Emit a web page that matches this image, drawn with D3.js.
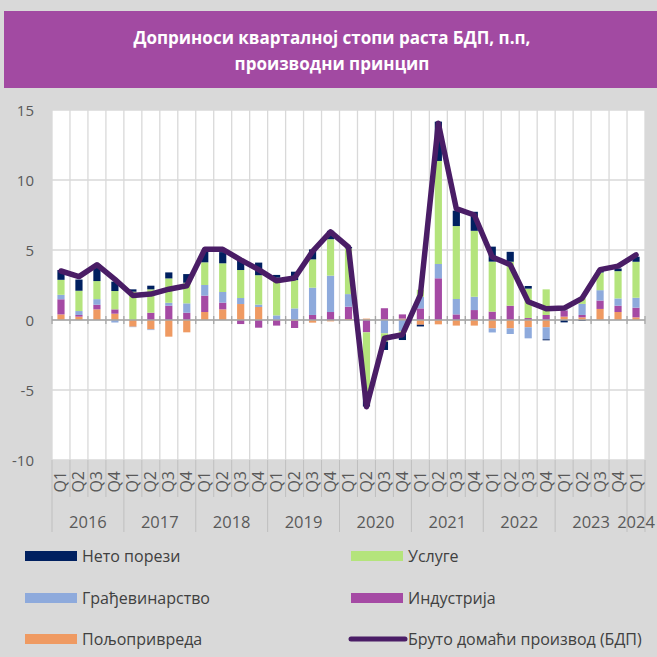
<!DOCTYPE html>
<html>
  <head>
    <meta charset="utf-8" />
    <title>Доприноси кварталној стопи раста БДП</title>
    <script src="https://d3js.org/d3.v7.min.js"></script>
    <style>
        body {
            margin:0;
            background: #d9d9d9;
        }
        text {
            font-family: "Open Sans", "Noto Sans", sans-serif;
        }
    </style>
  </head>
  <body>
      <svg id="viz"></svg>

    <script>

        // quarters 2016Q1 - 2024Q1
        var years = ["2016", "2017", "2018", "2019", "2020", "2021", "2022", "2023", "2024"];
        var quarters = ["Q1","Q2","Q3","Q4","Q1","Q2","Q3","Q4","Q1","Q2","Q3","Q4","Q1","Q2","Q3","Q4",
                        "Q1","Q2","Q3","Q4","Q1","Q2","Q3","Q4","Q1","Q2","Q3","Q4","Q1","Q2","Q3","Q4","Q1"];

        // contributions, p.p.
        var agriculture = [0.4, 0.24, 0.76, 0.45, -0.48, -0.67, -1.19, -0.88, 0.57, 0.76, 1.14, 0.93,
                           0, -0.05, -0.19, -0.1, 0.07, 0.1, 0.05, 0.1, -0.34, -0.31, -0.4, -0.4,
                           -0.6, -0.6, -0.52, -0.52, 0.24, 0.19, 0.79, 0.57, 0.19];
        var industry = [1.08, 0.12, 0.33, 0.31, 0, 0.52, 1.02, 0.52, 1.17, 0.48, -0.29, -0.55,
                        -0.4, -0.52, 0.36, 0.57, 0.88, -0.88, 0.79, 0.3, 0.83, 2.98, 0.4, 0.71,
                        0.6, 1.02, 0.14, 0.36, 0.45, 0.17, 0.6, 0.45, 0.69];
        var construction = [0.32, 0.28, 0.4, -0.18, -0.03, -0.05, 0.21, 0.67, 0.76, 0.76, 0.43, 0.17,
                            0.33, 0.83, 1.95, 2.6, 0.9, 0, -0.95, -0.8, 0.83, 1.02, 1.1, 0.95,
                            -0.29, -0.4, -0.79, -0.86, 0.05, 0.79, 0.74, 0.52, 0.71];
        var services = [1.07, 1.45, 1.29, 1.31, 2.02, 1.67, 1.74, 1.47, 1.62, 2.05, 2.0, 2.1,
                        2.69, 2.02, 2.02, 2.6, 3.27, -4.4, -0.6, -0.2, 0.5, 7.36, 5.21, 4.71,
                        3.57, 3.14, 2.1, 1.83, 0.25, 0.4, 1.26, 1.95, 2.57];
        var netTaxes = [0.7, 0.8, 1.2, 0.67, 0.17, 0.26, 0.43, 0.62, 0.76, 0.8, 0.8, 0.9,
                        0.2, 0.6, 0.71, 0.6, 0.1, -0.9, -0.59, -0.43, -0.12, 2.81, 1.1, 1.36,
                        1.07, 0.71, 0.19, -0.07, -0.17, -0.07, 0.15, 0.19, 0.36];
        var gdp = [3.5, 3.1, 3.95, 2.9, 1.75, 1.85, 2.2, 2.45, 5.05, 5.05, 4.3, 3.6,
                   2.8, 3.0, 4.9, 6.3, 5.2, -6.2, -1.3, -1.05, 1.8, 14.05, 7.95, 7.5,
                   4.5, 3.95, 1.3, 0.8, 0.85, 1.55, 3.6, 3.85, 4.65];

        var yTicks = [-10, -5, 0, 5, 10, 15];

        var width = 657;
        var height = 657;

        var svg = d3.select("#viz")
        .attr("width", width)
        .attr("height", height);

        // background + title band
        svg.append("rect").attr("width", width).attr("height", height).attr("fill", "#d9d9d9");
        svg.append("rect").attr("x", 4).attr("y", 11).attr("width", width - 4).attr("height", 77)
            .attr("fill", "#a24aa2");
        var title = svg.append("text").attr("x", 332).attr("y", 44)
            .attr("text-anchor", "middle").attr("fill", "white")
            .attr("font-size", 17).attr("font-weight", "bold");
        title.append("tspan").attr("x", 332).text("Доприноси кварталној стопи раста БДП, п.п,");
        title.append("tspan").attr("x", 332).attr("dy", 26).text("производни принцип");

        // plot area edges
        var pLeft = 52, pRight = 645, pTop = 110, pBottom = 460;

        var x = d3.scaleBand()
            .domain(d3.range(quarters.length))
            .range([pLeft, pRight])
            .paddingInner(0.6)
            .paddingOuter(0.3);
        var step = x.step();

        var y = d3.scaleLinear().domain([-10, 15]).range([pBottom, pTop]);

        svg.append("rect").attr("x", pLeft).attr("y", pTop)
            .attr("width", pRight - pLeft).attr("height", pBottom - pTop).attr("fill", "white");

        // grid
        svg.append("g").selectAll("line").data(yTicks).enter().append("line")
            .attr("x1", pLeft).attr("x2", pRight)
            .attr("y1", function (d) { return y(d); }).attr("y2", function (d) { return y(d); })
            .attr("stroke", "#d9d9d9").attr("stroke-width", 1.5);

        var bounds = d3.range(quarters.length + 1).map(function (i) { return pLeft + i * step; });
        svg.append("g").selectAll("line").data(bounds).enter().append("line")
            .attr("x1", function (d) { return d; }).attr("x2", function (d) { return d; })
            .attr("y1", pTop).attr("y2", pBottom)
            .attr("stroke", "#d9d9d9").attr("stroke-width", 1.3);
        // category separators under the axis
        svg.append("g").selectAll("line").data(bounds).enter().append("line")
            .attr("x1", function (d) { return d; }).attr("x2", function (d) { return d; })
            .attr("y1", pBottom).attr("y2", function (d, i) { return i % 4 === 0 || i === quarters.length ? 532 : 497; })
            .attr("stroke", "#bfbfbf").attr("stroke-width", 1);

        // stacked bars
        var keys = ["agriculture", "industry", "construction", "services", "netTaxes"];
        var colors = {
            agriculture: "#ef9a62",
            industry: "#a54aa4",
            construction: "#8eaadc",
            services: "#b4e47c",
            netTaxes: "#002060"
        };
        var rows = quarters.map(function (q, i) {
            return {
                i: i,
                agriculture: agriculture[i],
                industry: industry[i],
                construction: construction[i],
                services: services[i],
                netTaxes: netTaxes[i]
            };
        });
        var stack = d3.stack().keys(keys).offset(d3.stackOffsetDiverging);
        var layers = stack(rows);

        svg.append("g").selectAll("g").data(layers).enter().append("g")
            .attr("fill", function (d) { return colors[d.key]; })
            .selectAll("rect").data(function (d) { return d; }).enter().append("rect")
            .attr("x", function (d) { return x(d.data.i); })
            .attr("width", x.bandwidth())
            .attr("y", function (d) { return y(Math.max(d[0], d[1])); })
            .attr("height", function (d) { return Math.abs(y(d[0]) - y(d[1])); });

        // zero line
        svg.append("line").attr("x1", pLeft).attr("x2", pRight)
            .attr("y1", y(0)).attr("y2", y(0))
            .attr("stroke", "#a6a6a6").attr("stroke-width", 1.5);
        svg.append("g").selectAll("line").data(bounds).enter().append("line")
            .attr("x1", function (d) { return d; }).attr("x2", function (d) { return d; })
            .attr("y1", y(0) - 4).attr("y2", y(0) + 4)
            .attr("stroke", "#a6a6a6").attr("stroke-width", 1.3);

        // GDP line
        var line = d3.line()
            .x(function (d, i) { return x(i) + x.bandwidth() / 2; })
            .y(function (d) { return y(d); });
        svg.append("path").datum(gdp).attr("d", line)
            .attr("fill", "none").attr("stroke", "#4a1d66")
            .attr("stroke-width", 5.5).attr("stroke-linejoin", "round").attr("stroke-linecap", "round");

        // y axis labels
        svg.append("g").selectAll("text").data(yTicks).enter().append("text")
            .attr("x", 34).attr("y", function (d) { return y(d) + 5.5; })
            .attr("text-anchor", "end").attr("font-size", 15).attr("fill", "#595959")
            .text(function (d) { return d; });

        // quarter labels
        svg.append("g").selectAll("text").data(quarters).enter().append("text")
            .attr("transform", function (d, i) {
                return "translate(" + (x(i) + x.bandwidth() / 2 + 5.5) + ",471) rotate(-90)";
            })
            .attr("text-anchor", "end").attr("font-size", 16).attr("fill", "#595959")
            .text(function (d) { return d; });

        // year labels
        svg.append("g").selectAll("text").data(years).enter().append("text")
            .attr("x", function (d, i) {
                var n = i === years.length - 1 ? 1 : 4;
                return pLeft + step * (i * 4 + n / 2);
            })
            .attr("y", 528).attr("text-anchor", "middle")
            .attr("font-size", 16.5).attr("fill", "#595959")
            .text(function (d) { return d; });

        // legend
        var legend = [
            {name: "Нето порези", color: colors.netTaxes, col: 0, row: 0},
            {name: "Услуге", color: colors.services, col: 1, row: 0},
            {name: "Грађевинарство", color: colors.construction, col: 0, row: 1},
            {name: "Индустрија", color: colors.industry, col: 1, row: 1},
            {name: "Пољопривреда", color: colors.agriculture, col: 0, row: 2},
            {name: "Бруто домаћи производ (БДП)", color: "#4a1d66", col: 1, row: 2, line: true}
        ];
        var legendX = [25, 351], legendY = [556, 598, 639];
        var lg = svg.append("g").selectAll("g").data(legend).enter().append("g")
            .attr("transform", function (d) {
                return "translate(" + legendX[d.col] + "," + legendY[d.row] + ")";
            });
        lg.filter(function (d) { return !d.line; }).append("rect")
            .attr("x", 0).attr("y", -5).attr("width", 52).attr("height", 10)
            .attr("fill", function (d) { return d.color; });
        lg.filter(function (d) { return d.line; }).append("line")
            .attr("x1", 0).attr("x2", 54).attr("y1", 0).attr("y2", 0)
            .attr("stroke", function (d) { return d.color; })
            .attr("stroke-width", 5).attr("stroke-linecap", "round");
        lg.append("text").attr("x", 57).attr("y", 5.5)
            .attr("font-size", 16).attr("fill", "#404040")
            .text(function (d) { return d.name; });

    </script>
  </body>
</html>
